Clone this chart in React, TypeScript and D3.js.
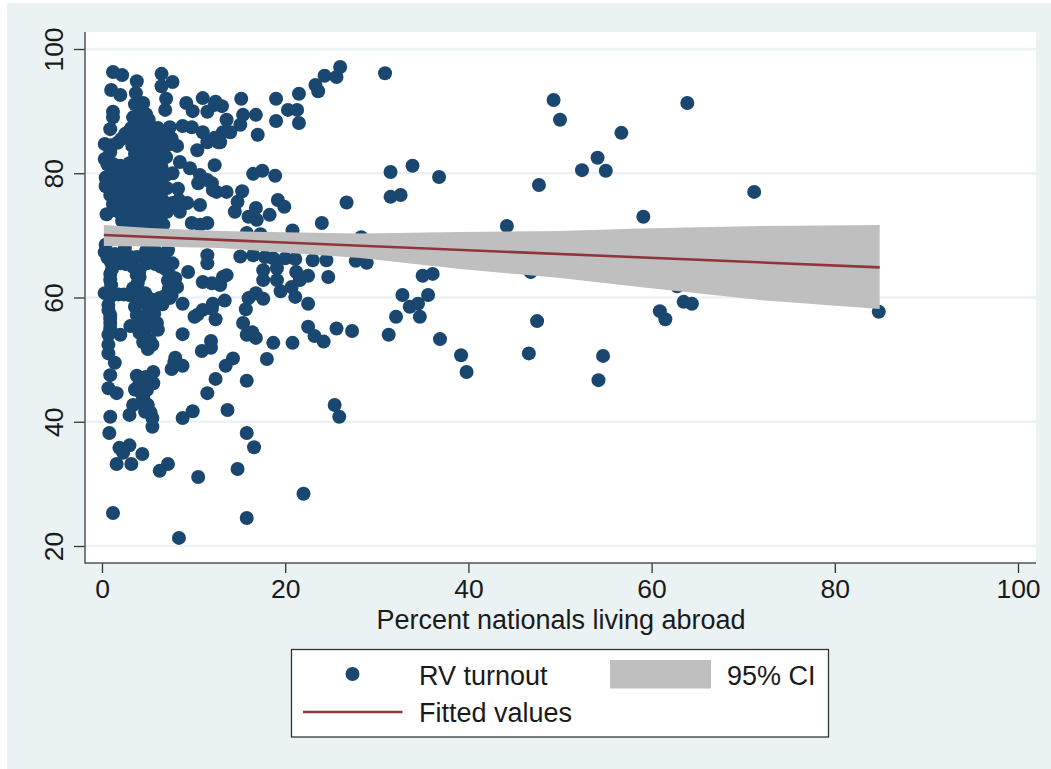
import React, { useEffect, useRef } from 'react';
import * as d3 from 'd3';

const xTicks = [0, 20, 40, 60, 80, 100];
const yTicks = [20, 40, 60, 80, 100];

// percent abroad, turnout
const sparsePoints: [number, number][] = [
  [30.9, 96.1], [49.3, 91.8], [50.0, 88.6], [63.9, 91.3], [56.7, 86.5], [54.1, 82.5], [52.4, 80.5], [55.0, 80.4],
  [71.2, 77.0], [59.1, 73.0], [47.7, 78.1], [36.8, 79.4], [33.9, 81.2], [31.5, 80.2], [31.5, 76.2], [32.6, 76.5],
  [26.7, 75.3], [24.0, 72.0], [44.2, 71.5], [46.8, 64.1], [62.8, 61.8], [60.9, 57.8], [61.5, 56.5], [63.5, 59.3],
  [64.4, 59.0], [84.8, 57.7], [47.5, 56.2], [46.6, 51.0], [54.7, 50.6], [54.2, 46.7], [39.2, 50.7], [39.8, 48.0],
  [36.9, 53.3], [31.3, 54.0], [32.1, 56.9], [32.8, 60.4], [33.6, 58.5], [34.5, 59.0], [34.7, 56.9], [35.6, 60.4],
  [35.0, 63.5], [36.1, 63.8], [27.3, 54.6], [25.6, 55.0], [25.4, 42.7], [25.9, 40.8], [22.0, 28.4], [15.8, 24.5],
  [8.4, 21.3], [1.2, 25.3],
];

const middlePoints: [number, number][] = [
  [15.1, 66.6], [16.5, 66.8], [17.8, 66.5], [18.7, 66.3], [20, 66.3], [21.1, 66.2], [23, 66], [24.5, 66],
  [27.7, 65.9], [28.9, 65.6], [28.3, 69.7], [20.8, 70.8], [15.8, 70.4], [17.3, 70.2], [17.6, 64.4], [19.1, 64.7],
  [21.2, 64.1], [22.5, 63.5], [24.7, 63.3], [17.6, 62.8], [19.1, 62.8], [21.6, 62.8], [19.5, 61], [20.7, 61.7],
  [21.1, 60.1], [16.8, 60.7], [16, 59.9], [17.6, 59.8], [15.7, 58.1], [22.5, 59], [15.4, 55.9], [15.8, 54],
  [16.8, 53.5], [16.4, 54.4], [18.7, 52.7], [20.8, 52.7], [22.5, 55.3], [23.2, 53.8], [24.2, 52.9], [18, 50.1],
  [14.3, 50.2], [13.5, 49], [12.4, 46.9], [15.8, 46.6], [13.4, 59.5], [12.1, 59], [12.4, 56.5], [12, 58.2],
  [13.2, 63.3], [13.6, 63.6], [12.9, 62], [12, 62.3], [11.9, 53], [11.9, 51.9], [10.9, 51.4], [13.7, 41.9],
  [15.8, 38.2], [16.6, 35.9], [14.8, 32.4], [10.5, 31.1], [7.2, 33.2], [6.3, 32.1], [4.4, 34.8], [3.2, 33.2],
  [1.6, 33.2], [3, 36.2], [1.9, 35.8], [2.3, 35], [0.8, 38.2], [9.9, 41.7], [8.8, 40.6], [11.5, 44.6],
];

const upperPoints: [number, number][] = [
  [26, 97.1], [25.6, 95.5], [24.3, 95.7], [23.3, 94.2], [23.6, 93.2], [21.5, 92.8], [19, 92], [15.2, 92],
  [12.4, 91.5], [13.1, 90.8], [20.3, 90.2], [21.3, 90.2], [19, 88.4], [21.5, 88.1], [16.8, 89.4], [15.4, 89.4],
  [13.6, 88.6], [15.1, 87.8], [14, 86.6], [13.2, 86.6], [17, 86.2], [12.3, 85.7], [12.9, 85], [12.3, 81.3],
  [16.5, 79.9], [17.5, 80.4], [18.9, 79.6], [12, 78.4], [12.5, 77], [13.6, 77], [15.3, 77.1], [14.8, 75.4],
  [14.5, 73.8], [19.2, 75.7], [19.9, 74.6], [16.8, 74.4], [16, 73], [16.9, 72.5], [18.3, 73.3], [10.5, 78.4],
  [1.2, 96.3], [2.2, 95.8], [3.8, 94.8], [6.5, 96], [7.7, 94.7], [6.5, 94], [1, 93.4], [2, 92.6], [3.7, 92.9],
  [7, 92], [4.5, 91.3], [3.6, 91.1], [6.9, 90.2], [9.2, 91.3], [11, 92.1], [9.9, 90], [11.5, 89.9], [12.3, 91],
  [1.2, 89.9], [1.2, 89], [0.9, 87.1], [0.3, 84.7], [0.3, 82.3], [4.1, 89.4], [3.9, 88], [3.1, 87], [2.5, 86.2],
  [6.1, 87.3], [7.4, 87.4], [8.8, 87.6], [9.8, 87.4], [11, 86.6], [8.2, 84.4], [10.4, 83.7], [11.5, 85],
  [8.5, 81.8], [9.6, 80.8], [10.7, 79.7], [7.7, 80], [0.5, 78.4], [12.7, 85], [8.3, 77.5], [8.2, 75.2],
  [8.5, 73.8], [9.3, 75.2], [10.7, 74.9], [9.8, 72], [11.5, 72], [10.7, 71.7], [0.5, 73.4], [6.7, 71.7],
  [7.1, 77.6], [8.4, 75.7], [7.7, 75.2], [7.1, 73.8], [11.5, 78.9], [12.1, 77.3],
  [4.2, 90], [4.8, 89.5], [3.4, 89], [5.1, 88.6], [7.2, 86.2], [6.5, 86.5], [7.6, 85.6], [0.9, 83.4],
  [0.6, 81.4], [0.4, 79.3], [0.4, 77.9], [0.9, 76.5], [1.2, 75], [1.5, 74],
];

const blobPoints: [number, number][] = [
  [2.6, 86.4], [3.2, 87.3], [3.9, 87.8], [4.6, 87.2], [5.3, 87.5], [5.9, 86.7], [2.1, 85.5], [3.0, 85.6],
  [3.9, 85.7], [4.8, 85.5], [5.6, 85.2], [6.4, 85.3], [7.1, 85.8], [7.3, 84.6], [1.0, 84.5], [1.7, 84.9],
  [3.3, 84.4], [4.2, 84.2], [5.0, 84.1], [5.8, 83.7], [6.6, 83.9], [3.6, 83.1], [4.5, 82.8], [5.3, 82.6],
  [6.2, 82.4], [7.0, 82.6], [1.2, 81.5], [2.0, 81.2], [3.0, 81.6], [3.9, 81.5], [4.8, 81.2], [5.7, 81.1],
  [6.5, 81.0], [1.5, 80.3], [2.4, 80.1], [3.3, 80.4], [4.3, 80.1], [5.2, 79.9], [6.1, 79.7], [7.0, 79.7],
  [0.7, 79], [1.3, 78.8], [2.1, 78.7], [3.0, 78.9], [3.9, 78.8], [4.8, 78.6], [5.7, 78.5], [6.5, 78.3],
  [0.9, 77.6], [1.8, 77.4], [2.7, 77.6], [3.6, 77.3], [4.5, 77.2], [5.4, 77.1], [6.3, 77], [1.3, 76.2],
  [2.2, 76.1], [3.1, 76.3], [4, 76], [4.9, 75.9], [5.8, 75.8], [6.6, 75.7], [1.7, 75], [2.6, 74.8], [3.5, 74.9],
  [4.4, 74.7], [5.3, 74.6], [6.2, 74.4], [7, 74.3], [2.0, 73.6], [2.8, 73.4], [3.7, 73.5], [4.6, 73.3],
  [5.5, 73.2], [6.4, 73.1], [2.2, 72.3], [3.0, 72.1], [3.9, 72.2], [4.8, 72], [5.7, 71.9],
];

const lowerPoints: [number, number][] = [
  [0.4, 68.5], [0.3, 67.3], [0.6, 66.4], [1.0, 65.6], [2.0, 65.5], [3.1, 66.5], [3.8, 66.5], [3.4, 64.9],
  [4.9, 65.5], [6, 66.4], [6.9, 66], [7.7, 65.5], [7.4, 63.6], [8, 63.1], [9.4, 64.1], [8.2, 61.7], [7.6, 60.4],
  [5.8, 59.6], [4.7, 60.7], [3.9, 62.3], [4.1, 64.4], [4.1, 63.3], [3, 60.4], [0.9, 62.8], [0.3, 60.7], [0.9, 60.1],
  [1.8, 60.5], [11, 62.5], [11.5, 66.8], [11.5, 65.5], [4.8, 67.5], [5.8, 67.5], [7.2, 67.6], [2.5, 68],
  [0.7, 58.8], [0.9, 57.2], [0.9, 55.9], [0.7, 54], [2, 54], [0.7, 52.4], [0.7, 51], [1.4, 49.5], [0.9, 47.5],
  [0.7, 45.4], [1.6, 44.6], [0.9, 40.8], [3.6, 58.5], [3.8, 57.2], [3.1, 55.4], [4.7, 56], [6, 55.9], [6.1, 54.8],
  [4.1, 54.3], [4.5, 52.8], [5, 51.7], [8.8, 54.1], [3.8, 47.4], [5.6, 48], [5.6, 46.2], [3.6, 45.2], [4.5, 46.7],
  [4.5, 43.8], [4.9, 45.1], [3.4, 42.7], [5, 42.7], [3, 41.1], [5.5, 40.6], [5.5, 39.2], [8, 50.3], [7.6, 48.5],
  [8.8, 49], [7.9, 49.6], [5.9, 59], [7.4, 59.9], [8.8, 59], [10.1, 56.9], [11, 58], [10.4, 57.2], [4.3, 55.2],
  [1.4, 67], [2, 66], [2.6, 65.4], [5.3, 66.4], [5.8, 65.4], [6.4, 65], [6.9, 64.6], [7.2, 62.7], [7.3, 61.4],
  [6.9, 60.3], [6.3, 59.9], [5.2, 59.8], [0.9, 63.8], [1, 62], [1.1, 64.6], [3.8, 63.6], [3.4, 61.5], [2.4, 60.5],
  [3.4, 60.5], [4.2, 60.5], [0.7, 58], [0.9, 56.6], [0.9, 55], [4.2, 59.6], [5, 58.5], [4.8, 57.2], [5.7, 57.4],
  [5.2, 56.2], [6.6, 58.9], [3.9, 55.2], [4.7, 54.6], [5.2, 53.2], [5.5, 52.4], [4.2, 44.8], [4.3, 43], [4.7, 41.6],
  [5.3, 41.5], [4, 45.8], [4.8, 47.2],
];

const scatterPoints = [...sparsePoints, ...middlePoints, ...upperPoints, ...blobPoints, ...lowerPoints];

// x, lower, upper
const ciX = [0.2, 5.2, 12.9, 28.2, 39.1, 50, 58.7, 71.8, 84.9];
const ciUpper = [71.67, 71.19, 70.7, 70.3, 70.54, 70.7, 71.11, 71.51, 71.67];
const ciLower = [68.29, 68.2, 67.97, 66.36, 64.59, 63.14, 61.69, 59.6, 58.15];
const fitX = [0.2, 84.9];
const fitY = [70.06, 64.85];

const NAVY = '#1a476f';
const MAROON = '#90353b';
const CI_GREY = '#bfbfbf';
const BG = '#eaf2f3';
const FONT = '"Liberation Sans", Arial, sans-serif';

const App: React.FC = () => {
  const svgRef = useRef<SVGSVGElement>(null);

  useEffect(() => {
    if (!svgRef.current) return;
    const svg = d3.select(svgRef.current);
    svg.selectAll('*').remove();

    const xScale = d3.scaleLinear().domain([0, 100]).range([102, 1018]);
    const yScale = d3.scaleLinear().domain([20, 100]).range([546, 49]);

    svg.append('rect').attr('width', 1051).attr('height', 769).attr('fill', '#fff');
    svg.append('rect').attr('x', 7).attr('y', 3).attr('width', 1044).attr('height', 766).attr('fill', BG);
    svg.append('rect').attr('x', 85).attr('y', 32).attr('width', 951).attr('height', 531).attr('fill', '#fff');

    // grid
    svg.append('g').selectAll('line').data(yTicks).enter().append('line')
      .attr('x1', 85).attr('x2', 1036)
      .attr('y1', d => yScale(d)).attr('y2', d => yScale(d))
      .attr('stroke', BG).attr('stroke-width', 2.5);

    // points go under the band
    svg.append('g').selectAll('circle').data(scatterPoints).enter().append('circle')
      .attr('cx', d => xScale(d[0])).attr('cy', d => yScale(d[1]))
      .attr('r', 7).attr('fill', NAVY);

    const band = d3.area<number>()
      .x(d => xScale(d))
      .y0((_, i) => yScale(ciLower[i]))
      .y1((_, i) => yScale(ciUpper[i]));
    svg.append('path').attr('d', band(ciX)).attr('fill', CI_GREY);

    const fitLine = d3.line<number>().x(d => xScale(d)).y((_, i) => yScale(fitY[i]));
    svg.append('path').attr('d', fitLine(fitX)).attr('fill', 'none').attr('stroke', MAROON).attr('stroke-width', 2.6);

    // axes
    const xAxis = svg.append('g').attr('transform', 'translate(0,563)')
      .call(d3.axisBottom(xScale).tickValues(xTicks).tickSize(10).tickPadding(6).tickFormat(d3.format('d')));
    const yAxis = svg.append('g').attr('transform', 'translate(85,0)')
      .call(d3.axisLeft(yScale).tickValues(yTicks).tickSize(11).tickPadding(0).tickFormat(d3.format('d')));

    [xAxis, yAxis].forEach(ax => {
      ax.attr('font-family', FONT).attr('font-size', 26.5);
      ax.select('.domain').remove();
      ax.selectAll('.tick line').attr('stroke', '#333').attr('stroke-width', 1.3);
      ax.selectAll('.tick text').attr('fill', '#1a1a1a');
    });
    yAxis.selectAll('.tick text')
      .attr('transform', 'translate(-22,0) rotate(-90)')
      .attr('x', 0).attr('y', 0).attr('dy', 0)
      .attr('text-anchor', 'middle');

    svg.append('line').attr('x1', 85).attr('x2', 85).attr('y1', 32).attr('y2', 563.7)
      .attr('stroke', '#555').attr('stroke-width', 1.5);
    svg.append('line').attr('x1', 85).attr('x2', 1036).attr('y1', 563).attr('y2', 563)
      .attr('stroke', '#555').attr('stroke-width', 1.5);

    svg.append('text').attr('x', 561).attr('y', 629).attr('text-anchor', 'middle')
      .attr('font-family', FONT).attr('font-size', 27).attr('fill', '#1a1a1a')
      .text('Percent nationals living abroad');

    // legend
    const legend = svg.append('g');
    legend.append('rect').attr('x', 291.5).attr('y', 649.5).attr('width', 537).attr('height', 87.5)
      .attr('fill', '#fff').attr('stroke', '#333').attr('stroke-width', 1.3);
    legend.append('circle').attr('cx', 352.5).attr('cy', 674).attr('r', 7).attr('fill', NAVY);
    legend.append('rect').attr('x', 610).attr('y', 660).attr('width', 101).attr('height', 28.5).attr('fill', CI_GREY);
    legend.append('line').attr('x1', 303).attr('x2', 402.5).attr('y1', 712).attr('y2', 712)
      .attr('stroke', MAROON).attr('stroke-width', 2.6);
    const legendText = (x: number, y: number, s: string) =>
      legend.append('text').attr('x', x).attr('y', y)
        .attr('font-family', FONT).attr('font-size', 27).attr('fill', '#1a1a1a').text(s);
    legendText(419, 685, 'RV turnout');
    legendText(727, 685, '95% CI');
    legendText(419, 722, 'Fitted values');
  }, []);

  return (
    <svg
      ref={svgRef}
      width={1051}
      height={769}
      viewBox="0 0 1051 769"
      style={{ position: 'absolute', left: 0, top: 0 }}
    />
  );
};

export default App;
